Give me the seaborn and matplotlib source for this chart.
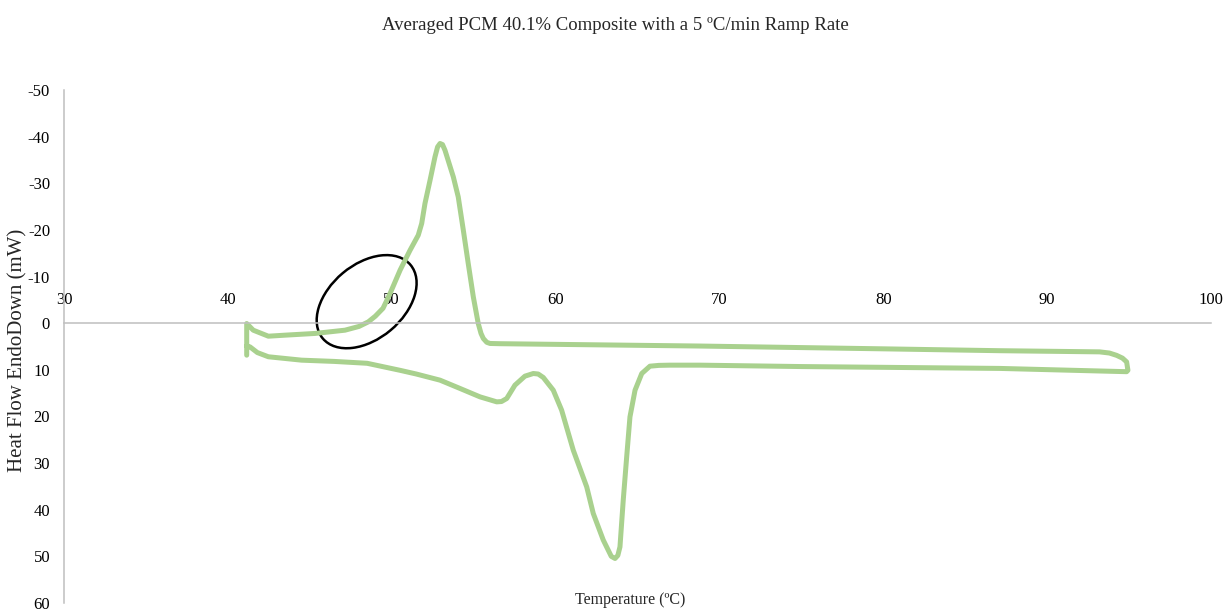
import matplotlib
matplotlib.use("Agg")
import matplotlib.pyplot as plt
import matplotlib.transforms as mtransforms
from matplotlib.patches import Ellipse
import pandas as pd
import seaborn as sns

# Averaged DSC loop: heating branch (left -> right), then cooling branch (right -> left)
temperature = [
    41.15, 41.15, 41.55, 42.47, 43.49, 45.32, 47.15, 48.0, 48.57, 49.0, 49.47,
    49.9, 50.51, 51.12, 51.62, 51.83, 52.03, 52.34, 52.64, 52.8, 52.95, 53.1,
    53.25, 53.76, 54.06, 54.37, 54.67, 54.98, 55.28, 55.45, 55.59, 55.8, 56.0,
    56.61, 68.8, 80.0, 87.1, 93.2, 93.8, 94.24, 94.6, 94.85, 94.93,
    94.85, 87.1, 75.0, 68.8, 66.98, 66.3, 65.76, 65.26, 64.85, 64.54, 64.34,
    64.13, 63.93, 63.8, 63.63, 63.4, 62.91, 62.3, 61.9, 61.08, 60.37, 59.86,
    59.25, 58.94, 58.64, 58.13, 57.52, 57.02, 56.7, 56.41, 55.39, 54.17, 52.95,
    51.5, 50.5, 48.5, 46.5, 44.5, 42.47, 41.8, 41.35, 41.15,
]
heat_flow = [
    6.86, 0.07, 1.5, 2.79, 2.57, 2.2, 1.5, 0.7, -0.28, -1.5, -3.2,
    -6.37, -11.36, -15.65, -18.87, -21.38, -25.67, -30.66, -35.66, -37.8, -38.53, -38.3,
    -37.09, -31.37, -27.08, -19.94, -12.8, -5.64, 0.06, 2.2, 3.28, 4.1, 4.35,
    4.4, 4.9, 5.5, 5.9, 6.15, 6.4, 6.9, 7.5, 8.3, 10.1,
    10.4, 9.7, 9.3, 9.0, 9.0, 9.05, 9.22, 10.79, 14.37, 20.09, 28.66,
    37.95, 47.96, 49.8, 50.45, 50.0, 46.5, 40.8, 35.1, 27.23, 18.65, 14.37,
    11.64, 10.9, 10.79, 11.36, 13.29, 16.15, 16.8, 16.87, 15.8, 14.0, 12.22,
    10.9, 10.1, 8.6, 8.2, 7.93, 7.2, 6.3, 5.08, 4.9,
]

x_ticks = [30, 40, 50, 60, 70, 80, 90, 100]
y_ticks = [-50, -40, -30, -20, -10, 0, 10, 20, 30, 40, 50, 60]

# onset region highlighted with an ellipse (centre in data units)
onset_center = (48.47, -4.61)

sns.set_theme(style="white")
plt.rcParams["font.family"] = ["Liberation Serif", "DejaVu Serif"]

fig = plt.figure(figsize=(12.28, 6.13), dpi=100)
ax = fig.add_axes([64 / 1228, 1 - 603 / 613, (1211 - 64) / 1228, (603 - 90) / 613])

df = pd.DataFrame({"Temperature": temperature, "HeatFlow": heat_flow})
sns.lineplot(data=df, x="Temperature", y="HeatFlow", sort=False, estimator=None,
             color="#A9D18E", linewidth=3.6, ax=ax, solid_joinstyle="round",
             solid_capstyle="round")

ax.set_xlim(30, 100)
ax.set_ylim(60, -50)
ax.set_xticks(x_ticks)
ax.set_yticks(y_ticks)
ax.set_xticklabels([str(v) for v in x_ticks])
ax.set_yticklabels([str(v) for v in y_ticks])

# x axis drawn through zero, labels above it
ax.spines["bottom"].set_visible(False)
ax.spines["right"].set_visible(False)
ax.spines["top"].set_position(("data", 0))
ax.xaxis.tick_top()
for side in ("top", "left"):
    ax.spines[side].set_color("#BFBFBF")
    ax.spines[side].set_linewidth(1.1)
ax.tick_params(axis="x", length=0, pad=11, labelsize=12, labelcolor="black")
ax.tick_params(axis="y", length=0, pad=10, labelsize=12, labelcolor="black")
ax.set_xlabel("")
ax.set_ylabel("")
ax.grid(False)

fig.text(18 / 1228, 1 - 350 / 613, "Heat Flow EndoDown (mW)", rotation=90,
         ha="center", va="center", fontsize=15)
fig.text(630 / 1228, 1 - 600 / 613, "Temperature (ºC)", ha="center",
         va="center", fontsize=11.5)
fig.text(615 / 1228, 1 - 25 / 613,
         "Averaged PCM 40.1% Composite with a 5 ºC/min Ramp Rate",
         ha="center", va="center", fontsize=13.5)

trans = fig.dpi_scale_trans + mtransforms.ScaledTranslation(
    onset_center[0], onset_center[1], ax.transData)
ax.add_patch(Ellipse((0, 0), width=1.145, height=0.745, angle=40,
                     transform=trans, fill=False, edgecolor="black",
                     linewidth=1.8, clip_on=False))

fig.savefig("out.png", dpi=100)
